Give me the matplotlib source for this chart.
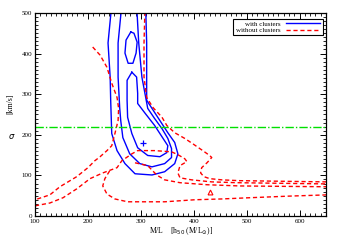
import matplotlib
matplotlib.use('Agg')
import matplotlib.pyplot as plt
from matplotlib.lines import Line2D
from matplotlib.ticker import MultipleLocator

plt.rcParams['font.family'] = ['Liberation Serif', 'DejaVu Serif']

# contour lines: M/L, sigma
# with clusters (solid blue)
blue_outer_ml = [245, 238, 242, 243, 245, 255, 270, 289, 321, 345, 364, 370, 364, 351, 336, 321, 311, 311, 311, 309]
blue_outer_sig = [520, 426, 342, 285, 203, 161, 129, 104, 101, 109, 129, 153, 181, 205, 235, 265, 285, 342, 426, 520]
blue_mid_ml = [264, 257, 257, 260, 262, 266, 279, 298, 321, 345, 358, 358, 351, 340, 326, 313, 302, 296, 292]
blue_mid_sig = [520, 426, 342, 267, 235, 193, 153, 129, 121, 129, 144, 166, 191, 215, 240, 265, 342, 426, 520]
blue_in_ml = [283, 274, 274, 275, 283, 294, 313, 336, 349, 351, 341, 326, 308, 294, 294, 292, 283]
blue_in_sig = [354, 334, 285, 243, 203, 168, 149, 146, 156, 173, 193, 223, 253, 277, 302, 342, 354]
blue_top_ml = [281, 272, 270, 276, 285, 291, 293, 287, 281]
blue_top_sig = [453, 433, 401, 376, 376, 401, 428, 450, 453]

# without clusters (dashed red)
red_a_ml = [209, 223, 236, 245, 255, 258, 257, 251, 245, 236, 223, 213, 200, 179, 147, 128, 100]
red_a_sig = [416, 396, 366, 327, 292, 265, 235, 203, 173, 161, 146, 136, 119, 97, 72, 52, 40]
red_b_ml = [308, 306, 306, 311, 323, 340, 349, 364, 383, 398, 417, 430, 434, 425, 415, 413, 419, 430, 453, 487, 651]
red_b_sig = [520, 426, 342, 292, 267, 243, 223, 205, 191, 178, 161, 149, 144, 131, 119, 106, 97, 92, 89, 87, 84]
red_c_ml = [100, 128, 153, 179, 204, 228, 255, 264, 283, 294, 326, 358, 370, 383, 387, 374, 370, 374, 396, 434, 481, 651]
red_c_sig = [25, 32, 45, 67, 92, 106, 119, 136, 153, 161, 161, 158, 151, 141, 134, 124, 106, 94, 89, 84, 82, 79]
red_d_ml = [289, 313, 330, 345, 374, 425, 487, 651]
red_d_sig = [131, 124, 101, 89, 82, 77, 74, 72]
red_e_ml = [241, 232, 228, 236, 251, 275, 345, 402, 453, 506, 581, 651]
red_e_sig = [111, 92, 74, 54, 42, 35, 35, 40, 42, 45, 49, 52]

best_with = (305, 180)
best_without = (430, 58)
sigma_line = 218

fig = plt.figure(figsize=(3.38, 2.48), dpi=100)
ax = fig.add_axes([0.1036, 0.129, 0.861, 0.819])

blue = '#0000ff'
red = '#ff0000'
for xs, ys in [(blue_outer_ml, blue_outer_sig), (blue_mid_ml, blue_mid_sig),
               (blue_in_ml, blue_in_sig), (blue_top_ml, blue_top_sig)]:
    ax.plot(xs, ys, color=blue, lw=1.0)
for xs, ys in [(red_a_ml, red_a_sig), (red_b_ml, red_b_sig), (red_c_ml, red_c_sig),
               (red_d_ml, red_d_sig), (red_e_ml, red_e_sig)]:
    ax.plot(xs, ys, color=red, lw=1.0, ls=(0, (3, 2)))

ax.axhline(sigma_line, color='#00e000', lw=1.0, ls=(0, (6, 1.5, 1, 1.5)))
ax.plot(*best_with, marker='+', color=blue, ms=4, mew=0.9)
ax.plot(*best_without, marker='^', color=red, ms=3.5, mfc='none', mew=0.8)

ax.set_xlim(100, 650)
ax.set_ylim(0, 500)
ax.xaxis.set_major_locator(MultipleLocator(100))
ax.xaxis.set_minor_locator(MultipleLocator(10))
ax.yaxis.set_major_locator(MultipleLocator(100))
ax.yaxis.set_minor_locator(MultipleLocator(10))
ax.tick_params(which='both', direction='in', top=True, right=True, labelsize=5, pad=2)
ax.tick_params(which='major', length=4, width=0.7)
ax.tick_params(which='minor', length=2, width=0.6)
for s in ax.spines.values():
    s.set_linewidth(0.9)

ax.set_xlabel('M/L    [h$_{50}$ (M/L$_{\\odot}$)]', fontsize=5.5, labelpad=1)
fig.text(0.03, 0.58, '[km/s]', rotation=90, fontsize=5.5, ha='center', va='center')
fig.text(0.035, 0.45, '$\\sigma$', fontsize=6, ha='center', va='center')

handles = [Line2D([], [], color=blue, lw=1.0), Line2D([], [], color=red, lw=1.0, ls=(0, (3, 2)))]
leg = ax.legend(handles, ['with clusters', 'without clusters'], loc='upper right',
                bbox_to_anchor=(0.988, 0.972), borderaxespad=0, fontsize=5, markerfirst=False,
                handlelength=5, fancybox=False, framealpha=1, edgecolor='black',
                borderpad=0.3, labelspacing=0.1, handletextpad=0.8)
leg.get_frame().set_linewidth(0.8)

fig.savefig('out.png', dpi=100)
